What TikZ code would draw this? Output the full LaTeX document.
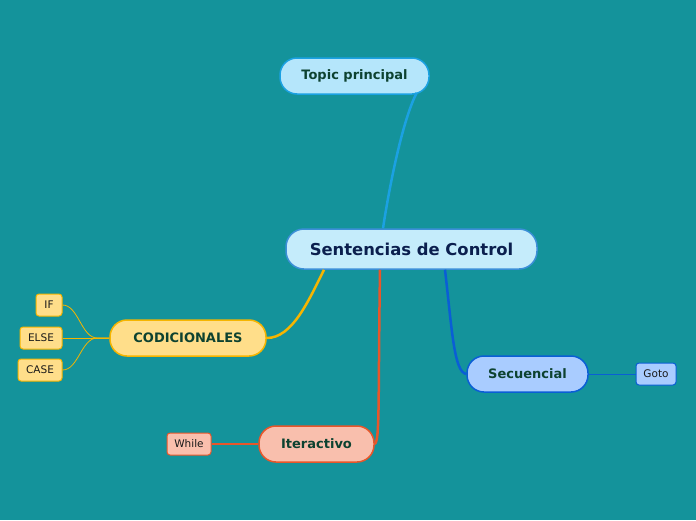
\documentclass[tikz,border=0pt]{standalone}
\usepackage{fontspec}
\setmainfont{DejaVu Sans}
\definecolor{fondo}{HTML}{14939B}
\definecolor{azulc}{HTML}{C5ECFB}
\definecolor{azulb}{HTML}{3C8FD8}
\definecolor{celf}{HTML}{B5E6FB}
\definecolor{celb}{HTML}{1BA1E2}
\definecolor{amaf}{HTML}{FFDE8A}
\definecolor{amab}{HTML}{F6B500}
\definecolor{secf}{HTML}{A9CCFF}
\definecolor{secb}{HTML}{0A5ED6}
\definecolor{itef}{HTML}{F9BFAD}
\definecolor{iteb}{HTML}{E8562A}
\definecolor{verde}{HTML}{0D4230}
\definecolor{navy}{HTML}{0B1F4E}

\begin{document}
\begin{tikzpicture}[x=1pt,y=-1pt,
    rama/.style={rounded corners=17pt,line width=1.5pt,inner sep=0pt,minimum height=36pt,
      text=verde,font=\fontsize{13}{15}\selectfont\bfseries},
    hoja/.style={rounded corners=3pt,line width=1pt,inner sep=0pt,minimum height=22pt,
      text=black!90,font=\fontsize{10.5}{12}\selectfont}]
\fill[fondo] (0,0) rectangle (696,520);

\node[rounded corners=18pt,line width=1.5pt,draw=azulb,fill=azulc,inner sep=0pt,
  minimum width=251pt,minimum height=40pt,text=navy,
  font=\fontsize{16.4}{19}\selectfont\bfseries] (c) at (411.5,249){Sentencias de Control};
\node[rama,draw=celb,fill=celf,minimum width=149pt] (t) at (354.5,76){Topic principal};
\node[rama,draw=amab,fill=amaf,minimum width=156pt] (k) at (188,338){CODICIONALES};
\node[rama,draw=secb,fill=secf,minimum width=121pt] (s) at (527.5,374){Secuencial};
\node[rama,draw=iteb,fill=itef,minimum width=115pt] (i) at (316.5,444){Iteractivo};

\node[hoja,draw=amab,fill=amaf,minimum width=26pt] (if) at (49,305){IF};
\node[hoja,draw=amab,fill=amaf,minimum width=42pt] (else) at (41,338){ELSE};
\node[hoja,draw=amab,fill=amaf,minimum width=44pt] (case) at (40,370){CASE};
\node[hoja,draw=secb,fill=secf,minimum width=40pt] (goto) at (656,374){Goto};
\node[hoja,draw=iteb,fill=itef,minimum width=44pt] (while) at (189,444){While};

\draw[celb,line width=2.5pt] ([xshift=-28.5pt]c.north) .. controls (392,170) and (405,115) .. ([xshift=-13pt,yshift=2pt]t.south east);
\draw[amab,line width=2.5pt] ([xshift=-87.5pt]c.south) .. controls (308,302) and (292,338) .. (k.east);
\draw[iteb,line width=2.5pt] ([xshift=-31.5pt]c.south) .. controls (378,400) and (380,440) .. (i.east);
\draw[secb,line width=2.5pt] ([xshift=33.5pt]c.south) .. controls (452,330) and (454,372) .. (s.west);

\draw[amab,line width=0.8pt] (k.west) -- ++(-12,0) .. controls +(-16,0) and +(16,0) .. (if.east);
\draw[amab,line width=0.8pt] (k.west) -- (else.east);
\draw[amab,line width=0.8pt] (k.west) -- ++(-12,0) .. controls +(-16,0) and +(16,0) .. (case.east);
\draw[secb,line width=0.8pt] (s.east) -- (goto.west);
\draw[iteb,line width=1.2pt] (i.west) -- (while.east);
\end{tikzpicture}
\end{document}
